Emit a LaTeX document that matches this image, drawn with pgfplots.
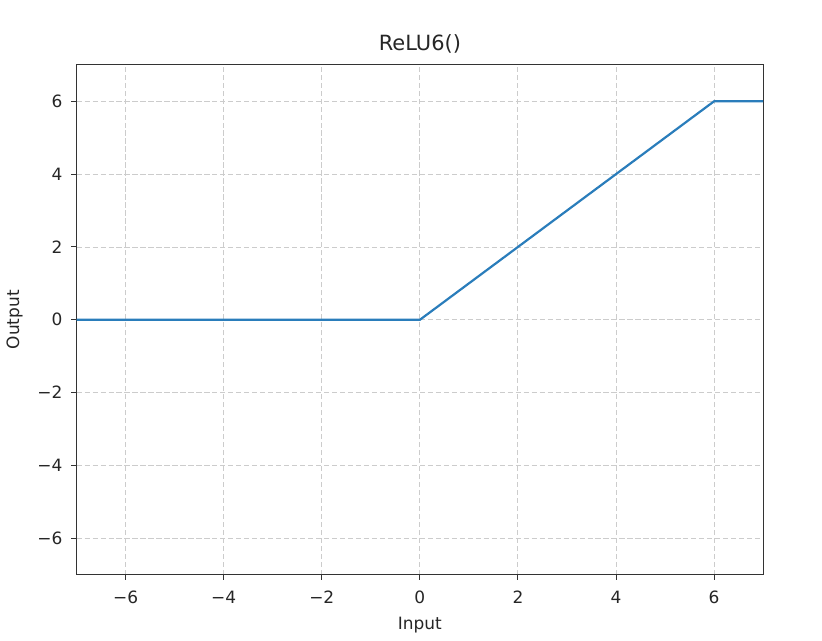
\documentclass[border=0pt]{standalone}
\usepackage{pgfplots}
\pgfplotsset{compat=1.18}
\usepackage{fontspec}
\setmainfont{DejaVu Sans}
\definecolor{mplblue}{HTML}{2A7DBB}
\definecolor{gridgray}{HTML}{CCCCCC}
\definecolor{spine}{HTML}{333333}
\begin{document}
\begin{tikzpicture}
\begin{axis}[
  scale only axis,
  width=344pt, height=255.5pt,
  xmin=-7, xmax=7, ymin=-7, ymax=7,
  xtick={-6,-4,-2,0,2,4,6},
  ytick={-6,-4,-2,0,2,4,6},
  xticklabels={−6,−4,−2,0,2,4,6},
  yticklabels={−6,−4,−2,0,2,4,6},
  grid=major,
  major grid style={gridgray, dash pattern=on 2.6pt off 1.4pt, line width=0.45pt},
  axis line style={spine, line width=0.6pt},
  tick style={spine, line width=0.5pt},
  tick align=outside,
  major tick length=2.6pt,
  xtick pos=bottom, ytick pos=left,
  tick label style={font=\fontsize{8.5}{9}\selectfont, text=black!85},
  xticklabel style={yshift=-2pt},
  yticklabel style={xshift=-1pt},
  title={ReLU6()},
  title style={font=\fontsize{10.5}{11}\selectfont, text=black!85, at={(axis description cs:0.5,1)}, anchor=center, yshift=4.5pt},
  xlabel={Input}, ylabel={Output},
  label style={font=\fontsize{8.5}{9}\selectfont, text=black!85},
  xlabel style={at={(axis description cs:0.5,0)}, anchor=center, yshift=-25pt},
  ylabel style={at={(axis description cs:0,0.5)}, anchor=center, yshift=31pt},
]
\addplot[mplblue, line width=1.1pt] coordinates {(-7,0) (0,0) (6,6) (7,6)};
\end{axis}
\path (current axis.south west) ++(-37.5pt,-33pt) coordinate (bl);
\path (current axis.north east) ++(29.5pt,32.5pt) coordinate (tr);
\useasboundingbox (bl) rectangle (tr);
\end{tikzpicture}
\end{document}
